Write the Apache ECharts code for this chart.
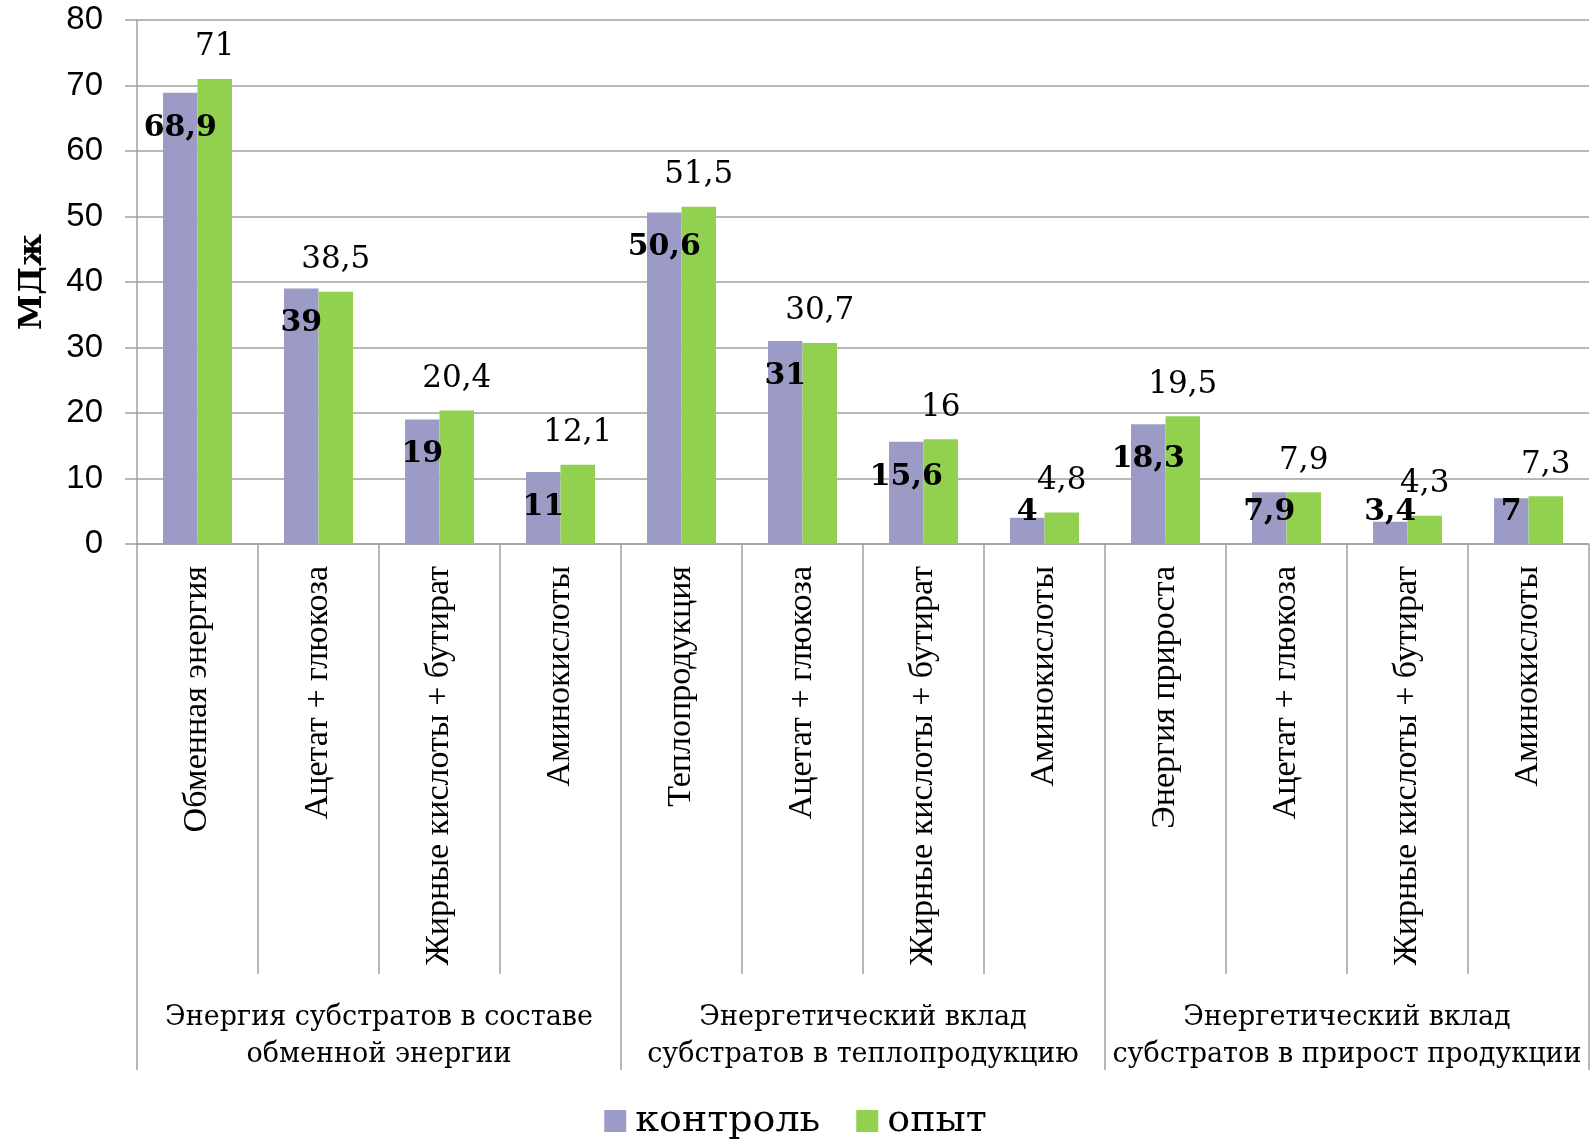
<!DOCTYPE html>
<html><head><meta charset="utf-8">
<script src="https://cdn.jsdelivr.net/npm/echarts@6/dist/echarts.min.js"></script>
<style>html,body{margin:0;padding:0;background:#fff}#c{width:1591px;height:1140px}</style>
</head><body><div id="c"></div>
<script>
const categories = ['Обменная энергия','Ацетат + глюкоза','Жирные кислоты + бутират','Аминокислоты','Теплопродукция','Ацетат + глюкоза','Жирные кислоты + бутират','Аминокислоты','Энергия прироста','Ацетат + глюкоза','Жирные кислоты + бутират','Аминокислоты'];
const groups = ['Энергия субстратов в составе\nобменной энергии','Энергетический вклад\nсубстратов в теплопродукцию','Энергетический вклад\nсубстратов в прирост продукции'];
const control = [68.9, 39, 19, 11, 50.6, 31, 15.6, 4, 18.3, 7.9, 3.4, 7];
const experiment = [71, 38.5, 20.4, 12.1, 51.5, 30.7, 16, 4.8, 19.5, 7.9, 4.3, 7.3];
const seriesNames = ['контроль','опыт'];
const yTicks = {min: 0, max: 80, interval: 10};

const fmt = p => String(p.value).replace('.', ',');
const controlItems = control.map(v => v < 10.3
  ? {value: v, label: {position: 'insideBottom', distance: 17}}
  : {value: v});

const chart = echarts.init(document.getElementById('c'));
chart.setOption({
  animation: false,
  backgroundColor: '#fff',
  grid: {left: 137, right: 2, top: 20, bottom: 596, containLabel: false},
  legend: {
    top: 1097, left: 'center', itemWidth: 22, itemHeight: 22, itemGap: 36,
    icon: 'rect',
    textStyle: {fontFamily: 'DejaVu Serif', fontSize: 38, color: '#000', padding: [0, 0, 0, 4]},
    data: seriesNames
  },
  xAxis: [{
    type: 'category', data: categories,
    axisLine: {show: true, lineStyle: {color: '#a0a0a0', width: 1.5}},
    axisTick: {show: true, length: 430, lineStyle: {color: '#a0a0a0', width: 1.5}},
    axisLabel: {interval: 0, rotate: 90, margin: 22, fontFamily: 'Liberation Serif', fontSize: 34, color: '#000'}
  }, {
    type: 'category', data: groups, position: 'bottom',
    axisLine: {show: false},
    axisTick: {show: true, length: 526, lineStyle: {color: '#a0a0a0', width: 1.5}},
    axisLabel: {interval: 0, margin: 455, fontFamily: 'DejaVu Serif', fontSize: 27, lineHeight: 37, color: '#000'}
  }],
  yAxis: {
    type: 'value', min: yTicks.min, max: yTicks.max, interval: yTicks.interval,
    name: 'МДж', nameLocation: 'middle', nameRotate: 90, nameGap: 88,
    nameTextStyle: {fontFamily: 'DejaVu Serif', fontWeight: 'bold', fontSize: 32, color: '#000'},
    axisLine: {show: true, lineStyle: {color: '#a0a0a0', width: 1.5}},
    axisTick: {show: true, length: 12, lineStyle: {color: '#a0a0a0', width: 1.5}},
    axisLabel: {margin: 34, fontFamily: 'Liberation Sans', fontSize: 33, color: '#000'},
    splitLine: {lineStyle: {color: '#a0a0a0', width: 1.5}}
  },
  series: [{
    name: seriesNames[0], type: 'bar', data: controlItems,
    barGap: '0%', barCategoryGap: '43%',
    itemStyle: {color: '#9b9bc6'},
    label: {show: true, position: 'insideTop', distance: 20, formatter: fmt,
      fontFamily: 'DejaVu Serif', fontWeight: 'bold', fontSize: 30, color: '#000'}
  }, {
    name: seriesNames[1], type: 'bar', data: experiment,
    itemStyle: {color: '#92d050'},
    label: {show: true, position: 'top', distance: 16, formatter: fmt,
      fontFamily: 'DejaVu Serif', fontSize: 31, color: '#000'}
  }]
});
</script></body></html>
